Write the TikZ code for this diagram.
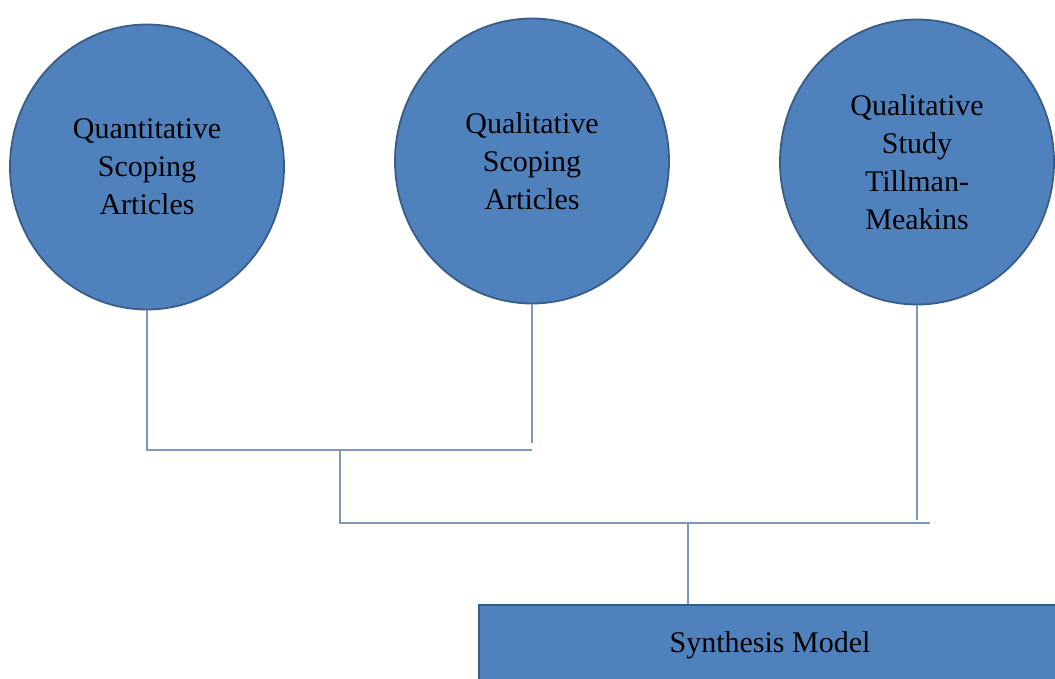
\documentclass[tikz,border=0pt]{standalone}
\usepackage{fontspec}
\setmainfont{Liberation Serif}
\usetikzlibrary{shapes.geometric, positioning}

\definecolor{blobfill}{RGB}{79,129,189}
\definecolor{blobedge}{RGB}{56,93,138}
\definecolor{linkcol}{RGB}{125,152,186}

\begin{document}
\begin{tikzpicture}[x=1pt, y=-1pt]
        % Setup the styles for the shapes and lines
        \tikzset{blob style/.style={ellipse,
                                    draw=blobedge,
                                    line width=1.8pt,
                                    fill=blobfill,
                                    minimum width=274pt,
                                    minimum height=285pt,
                                    inner sep=0pt,
                                    align=center,
                                    font=\fontsize{30}{38}\selectfont},
                 box style/.style={rectangle,
                                    draw=blobedge,
                                    line width=1.8pt,
                                    fill=blobfill,
                                    minimum width=582pt,
                                    minimum height=80pt,
                                    font=\fontsize{30}{38}\selectfont},
                 link/.style={draw=linkcol, line width=1.3pt}}

        \clip (0,0) rectangle (1055,679);

        % Draw the sources
        \node[blob style] at (147,167) (quant)   {Quantitative\\Scoping\\Articles};
        \node[blob style] at (532,161) (qual)    {Qualitative\\Scoping\\Articles};
        \node[blob style] at (917,162) (tillman) {Qualitative\\Study\\Tillman-\\Meakins};

        % Draw the result
        \node[box style] at (770,645) (model) {Synthesis Model};

        % Junction points of the bracket lines
        \coordinate (elbowA) at (532,450);
        \coordinate (stopA)  at (532,443);
        \coordinate (forkA)  at (340,450);
        \coordinate (elbowB) at (930,523);
        \coordinate (stopB)  at (917,520);
        \coordinate (forkB)  at (688,523);

        % Connect the shapes with lines
        \draw[link] (quant.south) |- (elbowA);
        \draw[link] (qual.south) -- (qual.south |- stopA);
        \draw[link] (forkA) |- (elbowB);
        \draw[link] (tillman.south) -- (tillman.south |- stopB);
        \draw[link] (forkB) -- (forkB |- model.north);
\end{tikzpicture}
\end{document}
